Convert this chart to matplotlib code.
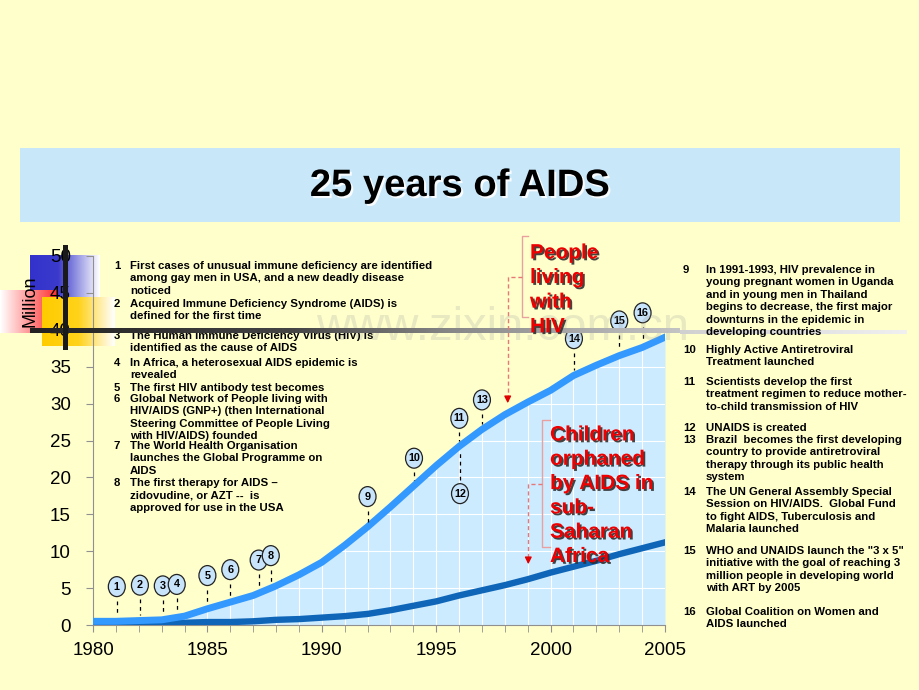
import matplotlib.pyplot as plt
import matplotlib.patheffects as pe
import numpy as np
from matplotlib.colors import to_rgb
from matplotlib.patches import Ellipse, Rectangle

plt.rcParams["font.family"] = ["Liberation Sans", "DejaVu Sans"]

# --- data -------------------------------------------------------------
years = np.arange(1980, 2006)
hiv_million = [0.5, 0.5, 0.6, 0.7, 1.2, 2.2, 3.1, 4.0, 5.3, 6.8, 8.5, 10.8, 13.3,
               16.0, 18.8, 21.6, 24.2, 26.5, 28.5, 30.2, 31.8, 33.8, 35.2, 36.5,
               37.6, 39.0]
orphans_million = [0.3, 0.3, 0.3, 0.3, 0.3, 0.4, 0.4, 0.5, 0.7, 0.8, 1.0, 1.2, 1.5,
                   2.0, 2.6, 3.2, 4.0, 4.7, 5.4, 6.2, 7.1, 7.9, 8.7, 9.6, 10.4, 11.2]

event_ids = list(range(1, 17))
event_years = [1981, 1982, 1983, 1983, 1985, 1986, 1987, 1987,
               1992, 1994, 1996, 1996, 1997, 2001, 2003, 2004]

left_events = [
    ["First cases of unusual immune deficiency are identified",
     "among gay men in USA, and a new deadly disease", "noticed"],
    ["Acquired Immune Deficiency Syndrome (AIDS) is", "defined for the first time"],
    ["The Human Immune Deficiency Virus (HIV) is", "identified as the cause of AIDS"],
    ["In Africa, a heterosexual AIDS epidemic is", "revealed"],
    ["The first HIV antibody test becomes"],
    ["Global Network of People living with", "HIV/AIDS (GNP+) (then International",
     "Steering Committee of People Living", "with HIV/AIDS) founded"],
    ["The World Health Organisation", "launches the Global Programme on", "AIDS"],
    ["The first therapy for AIDS \u2013", "zidovudine, or AZT --  is",
     "approved for use in the USA"],
]
right_events = [
    ["In 1991-1993, HIV prevalence in", "young pregnant women in Uganda",
     "and in young men in Thailand", "begins to decrease, the first major",
     "downturns in the epidemic in", "developing countries"],
    ["Highly Active Antiretroviral", "Treatment launched"],
    ["Scientists develop the first", "treatment regimen to reduce mother-",
     "to-child transmission of HIV"],
    ["UNAIDS is created"],
    ["Brazil  becomes the first developing", "country to provide antiretroviral",
     "therapy through its public health", "system"],
    ["The UN General Assembly Special", "Session on HIV/AIDS.  Global Fund",
     "to fight AIDS, Tuberculosis and", "Malaria launched"],
    ['WHO and UNAIDS launch the "3 x 5"', "initiative with the goal of reaching 3",
     "million people in developing world", "with ART by 2005"],
    ["Global Coalition on Women and", "AIDS launched"],
]

# --- layout -----------------------------------------------------------
label_dx = [0.04, 0.05, 0.05, 0.66, 0, 0, 0.24, 0.77, 0, 0.03, 0.01, 0.04, 0, 0.02, 0, 0.02]
label_y = [5.2, 5.4, 5.3, 5.5, 6.7, 7.5, 8.8, 9.4, 17.4, 22.6, 28.0, 17.8, 30.5, 38.8, 41.2, 42.3]
left_start = [266, 304, 336, 363, 388, 399, 446, 483]
right_start = [270, 350, 382, 428, 440, 492, 551, 612]
line_step = 12.4
list_size = 8.2

W, H = 920, 690
fig = plt.figure(figsize=(W / 100, H / 100), dpi=100, facecolor="#FFFFCC")


def pixel_axes(z, label):
    a = fig.add_axes([0, 0, 1, 1], zorder=z, label=label)
    a.set_autoscale_on(False)
    a.set_xlim(0, W)
    a.set_ylim(H, 0)
    a.axis("off")
    a.patch.set_visible(False)
    return a


def hgrad(a, x0, x1, y0, y1, stops, colors, z):
    t = np.linspace(0, 1, int(x1 - x0))
    rgb = np.array([to_rgb(c) for c in colors])
    row = np.stack([np.interp(t, stops, rgb[:, k]) for k in range(3)], axis=-1)
    img = np.tile(row[None, :, :], (2, 1, 1))
    a.imshow(img, extent=(x0, x1, y1, y0), aspect="auto", zorder=z,
             interpolation="nearest")


back = pixel_axes(0, "back")
ax = fig.add_axes([93 / W, 1 - 625 / H, 572 / W, 369 / H], zorder=1)
ax.patch.set_visible(False)
front = pixel_axes(2, "front")

# slide decorations
back.add_patch(Rectangle((20, 148), 880, 74, fc="#C8E8FA", ec="none", zorder=1))
hgrad(back, 30, 100, 255, 297, [0, 0.4, 1], ["#3333CC", "#3a3acc", "#ffffff"], 2)
hgrad(back, 0, 57, 290, 333, [0, 1], ["#ffffff", "#FF3030"], 3)
hgrad(back, 42, 115, 297, 346, [0, 0.5, 1], ["#FFCC00", "#FFD21A", "#ffffff"], 4)

# --- chart ------------------------------------------------------------
fill = ax.fill_between(years, hiv_million, 0, color="#CCEBFF", lw=0, zorder=1)
clip_path = fill.get_paths()[0]
for yr in years[1:-1]:
    ln = ax.axvline(yr, color="white", lw=0.8, zorder=1.5)
    ln.set_clip_path(clip_path, ax.transData)
for v in range(5, 50, 5):
    ln = ax.axhline(v, color="white", lw=0.8, zorder=1.5)
    ln.set_clip_path(clip_path, ax.transData)

ax.plot(years, orphans_million, color="#0F66B8", lw=4.6, zorder=3)
ax.plot(years, hiv_million, color="#3399FF", lw=5, zorder=4)

for eid, yr, dx, h in zip(event_ids, event_years, label_dx, label_y):
    x = yr + dx
    curve = np.interp(x, years, hiv_million)
    if h > curve:
        ax.plot([x, x], [h - 1.9, curve + 0.7], color="black", lw=0.9,
                ls=(0, (3, 3)), zorder=5)
    else:
        ax.plot([x, x], [h + 1.9, curve - 0.7], color="black", lw=0.9,
                ls=(0, (3, 3)), zorder=5)
    ax.add_patch(Ellipse((x, h), 0.74, 2.7, fc="#C8E4FA", ec="#222222",
                         lw=0.9, zorder=6, clip_on=False))
    ax.text(x, h, str(eid), ha="center", va="center", fontsize=7.8,
            fontweight="bold", zorder=7)

ax.set_xlim(1980, 2005)
ax.set_ylim(0, 50)
ax.set_xticks(range(1980, 2006, 5))
ax.set_xticks(years, minor=True)
ax.set_yticks(range(0, 51, 5))
for s in ["top", "right"]:
    ax.spines[s].set_visible(False)
for s in ["left", "bottom"]:
    ax.spines[s].set_color("#909090")
ax.tick_params(axis="both", which="both", direction="out", color="#909090",
               length=5, labelsize=13.5)
ax.tick_params(axis="y", pad=11)
ax.tick_params(axis="x", pad=7)

# --- texts ------------------------------------------------------------
front.text(503, 340, "www.zixin.com.cn", fontsize=34, color="#9a9a9a",
           alpha=0.22, ha="center", va="baseline", zorder=1)

front.text(460, 186, "25 years of AIDS", fontsize=27.5, fontweight="bold",
           ha="center", va="center", zorder=6,
           path_effects=[pe.SimplePatchShadow(offset=(1.5, -1.5), shadow_rgbFace="#ffffff",
                                              alpha=0.9), pe.Normal()])

front.text(30, 301, "Million", rotation=90, ha="center", va="center",
           fontsize=13, zorder=3)

for i, (lines, y0) in enumerate(zip(left_events, left_start)):
    front.text(117, y0, str(i + 1), ha="center", va="center", fontsize=list_size,
               fontweight="bold", zorder=3)
    for j, s in enumerate(lines):
        front.text(130, y0 + j * line_step, s, ha="left", va="center",
                   fontsize=list_size, fontweight="bold", zorder=3)

for i, (lines, y0) in enumerate(zip(right_events, right_start)):
    front.text(683, y0, str(i + 9), ha="left", va="center", fontsize=list_size,
               fontweight="bold", zorder=3)
    for j, s in enumerate(lines):
        front.text(706, y0 + j * line_step, s, ha="left", va="center",
                   fontsize=list_size, fontweight="bold", zorder=3)

# template bars: dark part over the left list, pale tail behind the right list
hgrad(front, 30, 680, 328, 333, [0, 0.4, 0.65, 1],
      ["#222222", "#444444", "#888888", "#c4c4c4"], 4)
hgrad(front, 680, 907, 330, 334, [0, 1], ["#d0d0d0", "#f0f0f0"], 2)
front.add_patch(Rectangle((63, 245), 5, 105, fc="#1a1a1a", ec="none", zorder=4))

# red series labels with brackets
shadow = [pe.SimplePatchShadow(offset=(1.3, -1.3), shadow_rgbFace="#303030", alpha=0.9),
          pe.Normal()]
for j, s in enumerate(["People", "living", "with", "HIV"]):
    front.text(530, 253 + j * 24.6, s, color="#EE0000", fontsize=15,
               fontweight="bold", ha="left", va="center", zorder=6,
               path_effects=shadow)
for j, s in enumerate(["Children", "orphaned", "by AIDS in", "sub-", "Saharan", "Africa"]):
    front.text(550, 435 + j * 24.3, s, color="#EE0000", fontsize=15,
               fontweight="bold", ha="left", va="center", zorder=6,
               path_effects=shadow)

front.plot([528, 521.7, 521.7, 528], [236, 236, 317, 317], color="#E8A0A0", lw=1, zorder=5)
front.plot([521.7, 507.7, 507.7], [276.7, 276.7, 398], color="#E87878", lw=1,
           ls=(0, (3, 2)), zorder=5)
front.annotate("", xy=(507.7, 406), xytext=(507.7, 396),
               arrowprops=dict(arrowstyle="-|>", color="#E00000", lw=1,
                               mutation_scale=10), zorder=5)

front.plot([550, 541.7, 541.7, 550], [420, 420, 546.7, 546.7], color="#E8A0A0", lw=1, zorder=5)
front.plot([541.7, 528.3, 528.3], [484, 484, 559], color="#E87878", lw=1,
           ls=(0, (3, 2)), zorder=5)
front.annotate("", xy=(528.3, 567), xytext=(528.3, 557),
               arrowprops=dict(arrowstyle="-|>", color="#E00000", lw=1,
                               mutation_scale=10), zorder=5)

fig.savefig("out.png", dpi=100, facecolor=fig.get_facecolor())
